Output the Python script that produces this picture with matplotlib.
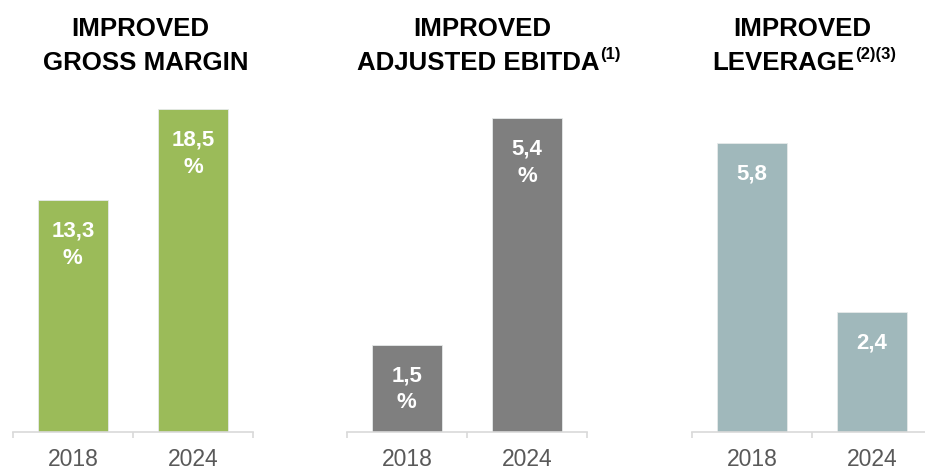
import matplotlib
matplotlib.use("Agg")
import matplotlib.pyplot as plt

plt.rcParams["font.family"] = ["Liberation Sans", "DejaVu Sans"]

years = ["2018", "2024"]
gross_margin = [13.3, 18.5]
adj_ebitda = [1.5, 5.4]
leverage = [5.8, 2.4]

titles_top = ["IMPROVED", "IMPROVED", "IMPROVED"]
titles_bottom = ["GROSS MARGIN", "ADJUSTED EBITDA", "LEVERAGE"]
title_notes = ["", "(1)", "(2)(3)"]
pct_suffix = [True, True, False]

colors = ["#9BBB59", "#7F7F7F", "#A0B8BB"]
ytops = [19.33, 5.805, 6.77]
series = [gross_margin, adj_ebitda, leverage]

W, H = 925, 470
fig = plt.figure(figsize=(W / 100, H / 100), dpi=100)

ax_left = [12.7, 346.7, 691.7]
ax_w = 240.6
base_y = 431.7
top_y = 95.0
line1_cx = [140.3, 482.7, 802.0]
line2_left = [43.3, 357.3, 712.7]

for i in range(3):
    ax = fig.add_axes([ax_left[i] / W, 1 - base_y / H, ax_w / W, (base_y - top_y) / H])
    x = [0, 1]
    ax.bar(x, series[i], width=0.586, color=colors[i], edgecolor="#E6EAEA", linewidth=0.6)
    ax.set_xlim(-0.5, 1.5)
    ax.set_ylim(0, ytops[i])
    for s in ["top", "left", "right"]:
        ax.spines[s].set_visible(False)
    ax.spines["bottom"].set_color("#D9D9D9")
    ax.spines["bottom"].set_linewidth(1.2)
    ax.set_yticks([])
    ax.set_xticks(x)
    ax.set_xticklabels(years)
    ax.set_xticks([-0.5, 0.5, 1.5], minor=True)
    ax.tick_params(axis="x", which="major", length=0, pad=12, labelsize=16.5, labelcolor="#595959")
    ax.tick_params(axis="x", which="minor", length=4.5, width=1.2, color="#D9D9D9")
    for xi, v in zip(x, series[i]):
        lab = f"{v:.1f}".replace(".", ",")
        ax.annotate(lab, (xi, v), xytext=(0, -36.5 * 0.72), textcoords="offset points",
                    ha="center", va="baseline", color="white", fontsize=16, fontweight="bold")
        if pct_suffix[i]:
            ax.annotate("%", (xi, v), xytext=(0, -63.5 * 0.72), textcoords="offset points",
                        ha="center", va="baseline", color="white", fontsize=16, fontweight="bold")

    fig.text(line1_cx[i] / W, 1 - 36 / H, titles_top[i], ha="center", va="baseline",
             fontsize=18.6, fontweight="bold", color="black")
    t2 = fig.text(line2_left[i] / W, 1 - 69.5 / H, titles_bottom[i], ha="left", va="baseline",
                  fontsize=18.6, fontweight="bold", color="black")
    if title_notes[i]:
        ax.annotate(title_notes[i], xy=(1, 0), xycoords=t2, xytext=(0.3, 11),
                    textcoords="offset points", ha="left", va="baseline",
                    fontsize=12, fontweight="bold", color="black", annotation_clip=False)

fig.savefig("out.png", dpi=100)
